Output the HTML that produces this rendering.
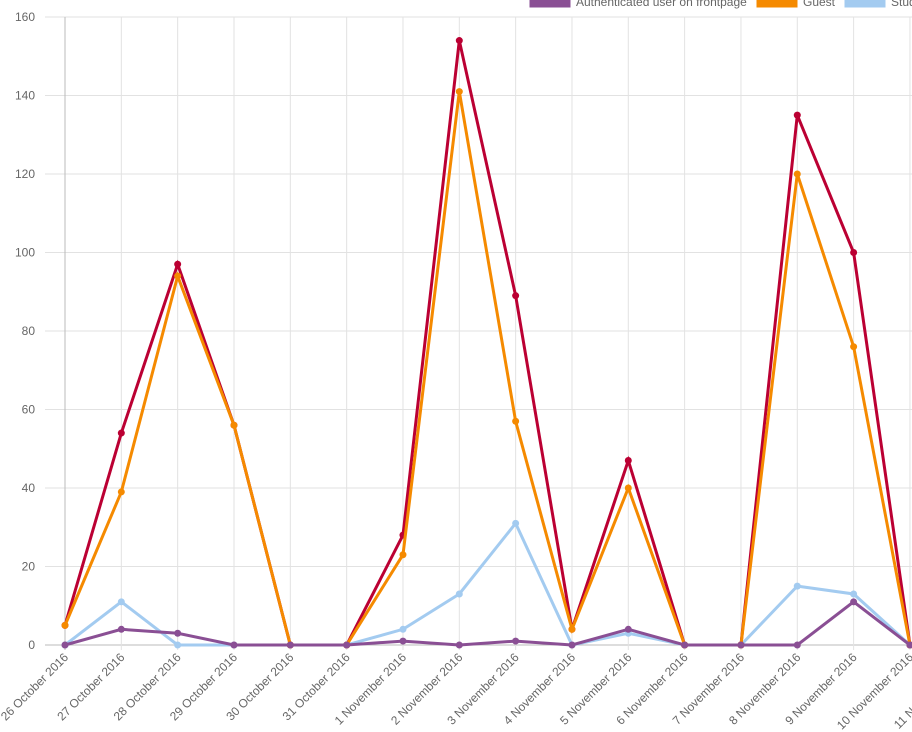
<!DOCTYPE html>
<html><head><meta charset="utf-8"><style>
html,body{margin:0;padding:0;background:#fff;width:912px;height:732px;overflow:hidden}
svg{display:block;font-family:"Liberation Sans",sans-serif}
</style></head><body>
<svg id="chart" width="912" height="732" viewBox="0 0 912 732"></svg>
<script>
const categories=["26 October 2016","27 October 2016","28 October 2016","29 October 2016","30 October 2016","31 October 2016","1 November 2016","2 November 2016","3 November 2016","4 November 2016","5 November 2016","6 November 2016","7 November 2016","8 November 2016","9 November 2016","10 November 2016","11 November 2016"];
const totalValues=[5,54,97,56,0,0,28,154,89,4,47,0,0,135,100,0];
const guestValues=[5,39,94,56,0,0,23,141,57,4,40,0,0,120,76,0];
const studentValues=[0,11,0,0,0,0,4,13,31,0,3,0,0,15,13,0];
const authValues=[0,4,3,0,0,0,1,0,1,0,4,0,0,0,11,0];
const yTicks=[0,20,40,60,80,100,120,140,160];
const NS="http://www.w3.org/2000/svg";
const svg=document.getElementById('chart');
const x0=65,dx=56.33,y0=645,yTop=17,yMax=160;
const xS=i=>x0+i*dx;
const yS=v=>y0-(v/yMax)*(y0-yTop);
function mk(t,a,p){const e=document.createElementNS(NS,t);for(const k in a)e.setAttribute(k,a[k]);(p||svg).appendChild(e);return e;}
// grid
yTicks.forEach(v=>{
 const l=mk('line',{x1:45,x2:912,y1:yS(v),y2:yS(v),stroke:v===0?'#bbb':'#e2e2e2','stroke-width':1});
 
 
 const t=mk('text',{x:35,y:yS(v)+4,'text-anchor':'end','font-size':12,fill:'#666'});
 t.textContent=v;
 
 
});
categories.forEach((c,i)=>{
 const x=xS(i);
 const l=mk('line',{x1:x,x2:x,y1:yTop,y2:y0+5,stroke:i===0?'#bbb':'#e2e2e2','stroke-width':1});
 
 
 const t=mk('text',{x:x+4,y:y0+13,'text-anchor':'end','font-size':12,fill:'#666',transform:`rotate(-45 ${x+4} ${y0+13})`});
 t.textContent=c;
 
 
});
function series(vals,color,name){
 const g=mk('g',{});
 
 
 mk('polyline',{points:vals.map((v,i)=>xS(i)+','+yS(v)).join(' '),fill:'none',stroke:color,'stroke-width':3,'stroke-linejoin':'miter'},g);
 vals.forEach((v,i)=>{
  const c=mk('circle',{cx:xS(i),cy:yS(v),r:3.5,fill:color},g);
  
  
 });
}
series(studentValues,'#a3cbf0','student-series');
series(totalValues,'#bb0033','total-series');
series(guestValues,'#f58a00','guest-series');
series(authValues,'#8a4f94','authenticated-series');
// legend
const legend=[["Authenticated user on frontpage","#8a4f94",529],["Guest","#f58a00",756],["Student","#a3cbf0",844]];
legend.forEach(([lab,col,x])=>{
 const g=mk('g',{});
 
 
 mk('rect',{x:x,y:-3,width:42,height:11,fill:col,stroke:'#fff','stroke-width':1},g);
 const t=mk('text',{x:x+47,y:6,'font-size':12,fill:'#666'},g);
 t.textContent=lab;
});
</script>
</body></html>
